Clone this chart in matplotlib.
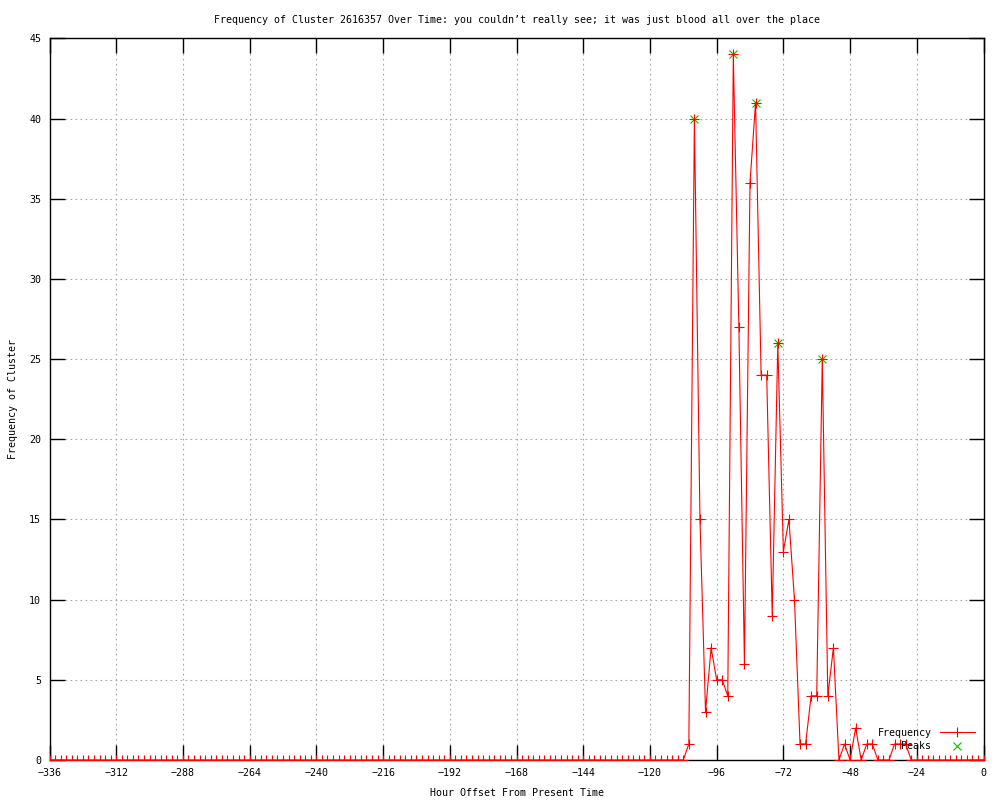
import numpy as np
import matplotlib.pyplot as plt
from matplotlib.ticker import MultipleLocator

# Data: counts every 2 hours, from -336 to 0
hours = np.arange(-336, 1, 2)
active_hours = [-106, -104, -102, -100, -98, -96, -94, -92, -90, -88, -86, -84,
                -82, -80, -78, -76, -74, -72, -70, -68, -66, -64, -62, -60,
                -58, -56, -54, -52, -50, -48, -46, -44, -42, -40, -38, -36,
                -34, -32, -30, -28]
active_counts = [1, 40, 15, 3, 7, 5, 5, 4, 44, 27, 6, 36,
                 41, 24, 24, 9, 26, 13, 15, 10, 1, 1, 4, 4,
                 25, 4, 7, 0, 1, 0, 2, 0, 1, 1, 0, 0,
                 0, 1, 1, 1]
peak_hours = [-104, -90, -82, -74, -58]
peak_counts = [40, 44, 41, 26, 25]

freq = np.zeros(len(hours))
for h, c in zip(active_hours, active_counts):
    freq[hours == h] = c

plt.rcParams['font.family'] = 'DejaVu Sans Mono'
plt.rcParams['font.size'] = 7

fig = plt.figure(figsize=(10, 8), dpi=100)
ax = fig.add_axes([0.0495, 0.05, 0.934, 0.902])

ax.plot(peak_hours, peak_counts, 'x', color='#00c000', markersize=6,
        markeredgewidth=0.8, label='Peaks', zorder=3)
ax.plot(hours, freq, '-+', color='red', linewidth=0.8, markersize=7,
        markeredgewidth=0.8, label='Frequency', zorder=4)

ax.set_xlim(-336, 0)
ax.set_ylim(0, 45)
ax.xaxis.set_major_locator(MultipleLocator(24))
ax.yaxis.set_major_locator(MultipleLocator(5))
ax.tick_params(direction='in', length=11, width=1, top=True, right=True,
               labelsize=7.2, pad=6)
ax.grid(True, color='#a8a8a8', linestyle=(0, (1.5, 3)), linewidth=0.8)
for s in ax.spines.values():
    s.set_linewidth(1)

ax.set_title("Frequency of Cluster 2616357 Over Time: you couldn\u2019t really see; it was just blood all over the place",
             fontsize=7.2, pad=11)
ax.set_xlabel('Hour Offset From Present Time', fontsize=7.2, labelpad=7)
ax.set_ylabel('Frequency of Cluster', fontsize=7.2, labelpad=8)

handles, labels = ax.get_legend_handles_labels()
ax.legend(handles[::-1], labels[::-1], loc='lower right', frameon=False,
          markerfirst=False, fontsize=7.2, handlelength=3.5,
          borderaxespad=0.5, labelspacing=0.35)

fig.savefig('out.png')
